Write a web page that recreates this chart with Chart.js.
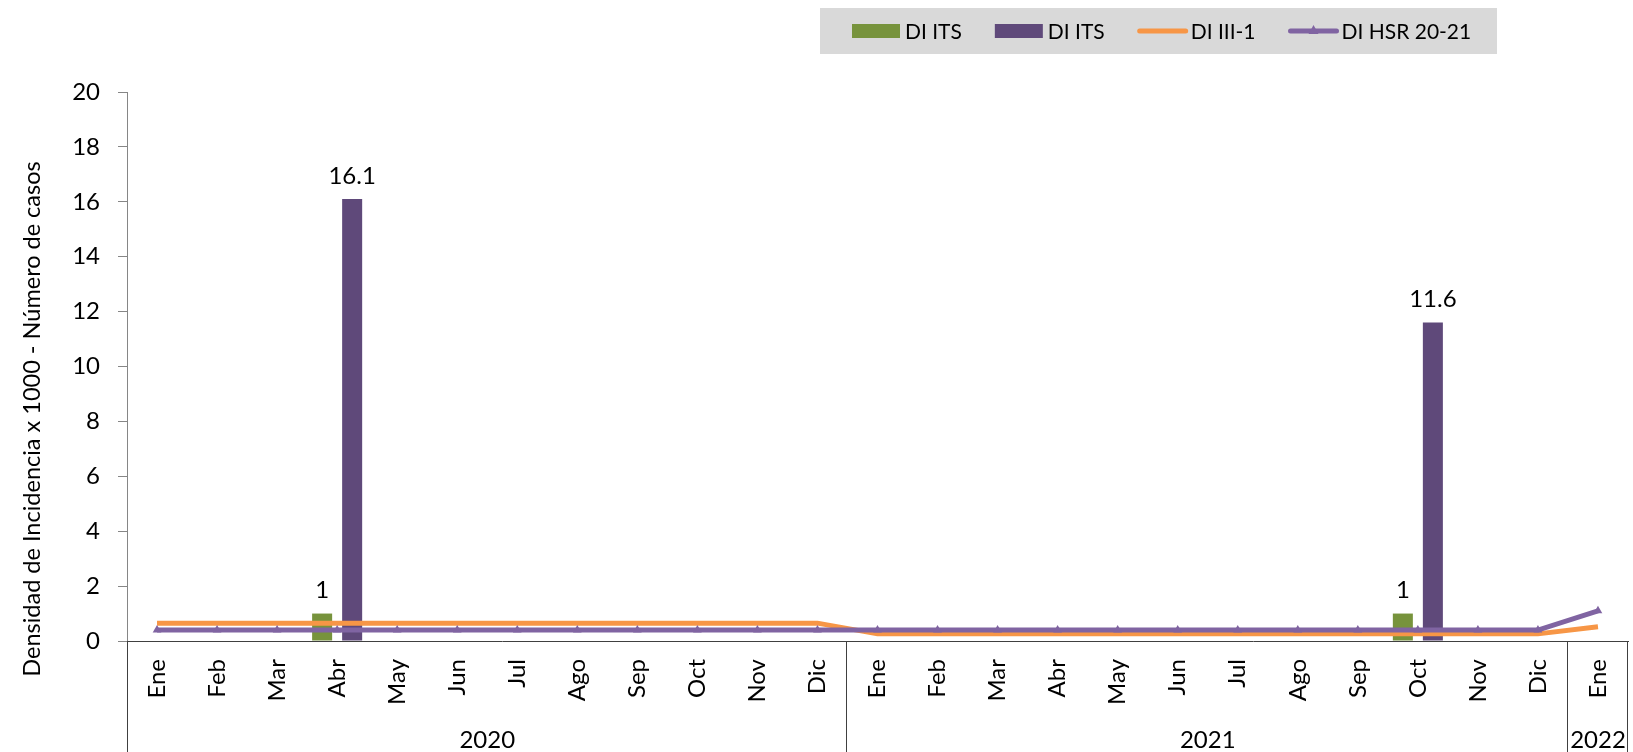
<!DOCTYPE html>
<html>
<head>
<meta charset="utf-8">
<script src="https://cdn.jsdelivr.net/npm/chart.js@4"></script>
<style>
  body { margin: 0; background: #fff; }
  #wrap { width: 1633px; height: 752px; position: relative; }
</style>
</head>
<body>
<div id="wrap"><canvas id="chart"></canvas></div>
<script>
const months = ["Ene","Feb","Mar","Abr","May","Jun","Jul","Ago","Sep","Oct","Nov","Dic",
                "Ene","Feb","Mar","Abr","May","Jun","Jul","Ago","Sep","Oct","Nov","Dic",
                "Ene"];
const years = ["2020", "2021", "2022"];
const yearSpans = [12, 12, 1];

// bars
const itsCases = [null,null,null,1,null,null,null,null,null,null,null,null,
                  null,null,null,null,null,null,null,null,null,1,null,null,
                  null];
const itsDensity = [null,null,null,16.1,null,null,null,null,null,null,null,null,
                    null,null,null,null,null,null,null,null,null,11.6,null,null,
                    null];
// lines
const diIII1 = [0.65,0.65,0.65,0.65,0.65,0.65,0.65,0.65,0.65,0.65,0.65,0.65,
                0.26,0.26,0.26,0.26,0.26,0.26,0.26,0.26,0.26,0.26,0.26,0.26,
                0.52];
const diHSR = [0.4,0.4,0.4,0.4,0.4,0.4,0.4,0.4,0.4,0.4,0.4,0.4,
               0.4,0.4,0.4,0.4,0.4,0.4,0.4,0.4,0.4,0.4,0.4,0.4,
               1.1];

const yTitle = "Densidad de Incidencia x 1000 - Número de casos";
const FONT = "Lato, 'Open Sans', sans-serif";

const extrasPlugin = {
  id: "extras",
  afterDatasetsDraw(chart) {
    const ctx = chart.ctx;
    ctx.save();
    ctx.fillStyle = "#000";
    ctx.font = "24px " + FONT;
    ctx.textAlign = "center";
    ctx.textBaseline = "middle";
    [0, 1].forEach(di => {
      const meta = chart.getDatasetMeta(di);
      chart.data.datasets[di].data.forEach((v, i) => {
        if (v == null) return;
        const bar = meta.data[i];
        ctx.fillText(String(v), bar.x, bar.y - 23);
      });
    });
    ctx.restore();
  },
  afterDraw(chart) {
    const ctx = chart.ctx;
    const x = chart.scales.x;
    const area = chart.chartArea;
    const H = chart.height;
    const half = (x.getPixelForValue(1) - x.getPixelForValue(0)) / 2;
    ctx.save();

    // year groups under the month labels
    ctx.strokeStyle = "#404040";
    ctx.lineWidth = 1;
    ctx.fillStyle = "#000";
    ctx.font = "24px " + FONT;
    ctx.textAlign = "center";
    ctx.textBaseline = "middle";
    let idx = 0;
    const edges = [Math.round(x.getPixelForValue(0) - half) + 0.5];
    yearSpans.forEach((span, k) => {
      const left = x.getPixelForValue(idx) - half;
      idx += span;
      const right = x.getPixelForValue(idx - 1) + half;
      edges.push(Math.round(right) - 0.5);
      ctx.fillText(years[k], (left + right) / 2, 740);
    });
    edges.forEach(ex => {
      ctx.beginPath();
      ctx.moveTo(ex, area.bottom);
      ctx.lineTo(ex, H);
      ctx.stroke();
    });

    // y axis title
    ctx.save();
    ctx.translate(32, 419);
    ctx.rotate(-Math.PI / 2);
    ctx.font = "23.5px " + FONT;
    ctx.fillText(yTitle, 0, 0);
    ctx.restore();

    // legend on grey band
    ctx.fillStyle = "#D9D9D9";
    ctx.fillRect(820, 8, 677, 46);
    ctx.font = "21px " + FONT;
    ctx.textAlign = "left";
    let lx = 852;
    const ly = 31;
    chart.data.datasets.forEach(ds => {
      if (ds.type === "bar") {
        ctx.fillStyle = ds.backgroundColor;
        ctx.fillRect(lx, ly - 7, 48, 14);
      } else {
        ctx.strokeStyle = ds.borderColor;
        ctx.lineWidth = 5;
        ctx.lineCap = "round";
        ctx.beginPath();
        ctx.moveTo(lx + 2, ly);
        ctx.lineTo(lx + 48, ly);
        ctx.stroke();
        if (ds.pointStyle === "triangle") {
          ctx.fillStyle = ds.borderColor;
          ctx.beginPath();
          ctx.moveTo(lx + 25, ly - 6);
          ctx.lineTo(lx + 30, ly + 3);
          ctx.lineTo(lx + 20, ly + 3);
          ctx.closePath();
          ctx.fill();
        }
      }
      ctx.fillStyle = "#000";
      ctx.fillText(ds.label, lx + 53, ly + 1);
      lx += 53 + ctx.measureText(ds.label).width + 33;
    });
    ctx.restore();
  }
};

new Chart(document.getElementById("chart"), {
  data: {
    labels: months,
    datasets: [
      { type: "bar", label: "DI ITS", data: itsCases, backgroundColor: "#77933C",
        order: 2, categoryPercentage: 1.0, barPercentage: 0.667 },
      { type: "bar", label: "DI ITS", data: itsDensity, backgroundColor: "#5F497A",
        order: 3, categoryPercentage: 1.0, barPercentage: 0.667 },
      { type: "line", label: "DI III-1", data: diIII1, borderColor: "#F79646",
        backgroundColor: "#F79646", borderWidth: 5, pointRadius: 0, tension: 0, order: 1 },
      { type: "line", label: "DI HSR 20-21", data: diHSR, borderColor: "#8064A2",
        backgroundColor: "#8064A2", borderWidth: 5, pointStyle: "triangle",
        pointRadius: 5, pointBorderWidth: 0, tension: 0, order: 0 }
    ]
  },
  options: {
    responsive: true,
    maintainAspectRatio: false,
    animation: false,
    layout: { padding: { top: 92, right: 3, left: 0, bottom: 0 } },
    plugins: {
      legend: { display: false },
      tooltip: { enabled: false }
    },
    scales: {
      x: {
        offset: true,
        grid: { display: true, drawOnChartArea: false, drawTicks: false },
        border: { display: true, color: "#404040", width: 1 },
        ticks: {
          color: "#000", font: { family: FONT, size: 24 },
          minRotation: 90, maxRotation: 90, autoSkip: false, padding: 18
        },
        afterFit(scale) {
          scale.height = 111;
          scale.paddingLeft = 0;
          scale.paddingRight = 0;
        }
      },
      y: {
        min: 0, max: 20,
        grid: { drawOnChartArea: false, drawTicks: true, tickLength: 9, color: "#868686" },
        border: { display: true, color: "#868686", width: 1 },
        ticks: { stepSize: 2, color: "#000", font: { family: FONT, size: 24 }, padding: 18 },
        afterFit(scale) { scale.width = 127; }
      }
    }
  },
  plugins: [extrasPlugin]
});
</script>
</body>
</html>
